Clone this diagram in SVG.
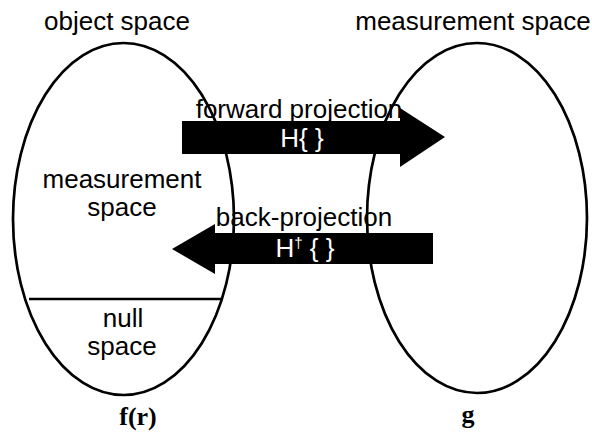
<svg xmlns="http://www.w3.org/2000/svg" width="592" height="435" viewBox="0 0 592 435">
<style>
.sp{fill:none;stroke:#000;stroke-width:2.7}
.t{font-family:"Liberation Sans",Arial,sans-serif;font-size:26px;fill:#000}
.w{font-family:"Liberation Sans",Arial,sans-serif;font-size:26px;fill:#fff}
.m{font-family:"Liberation Serif","Times New Roman",serif;font-size:26px;font-weight:bold;fill:#000}
.ar{fill:#000}
</style>
<rect width="592" height="435" fill="#fff"/>
<g id="object-space">
<ellipse class="sp" cx="123.5" cy="219" rx="110.5" ry="176"/>
<line x1="29" y1="299" x2="222" y2="299" stroke="#000" stroke-width="2.7"/>
<text class="t" x="117" y="30" text-anchor="middle">object space</text>
<text class="t" x="122" y="188" text-anchor="middle">measurement</text>
<text class="t" x="122" y="216" text-anchor="middle">space</text>
<text class="t" x="123" y="327" text-anchor="middle">null</text>
<text class="t" x="122" y="355" text-anchor="middle">space</text>
<text class="m" x="138" y="425" text-anchor="middle">f(r)</text>
</g>
<g id="measurement-space">
<ellipse class="sp" cx="477" cy="218" rx="110" ry="175"/>
<text class="t" x="473" y="30" text-anchor="middle">measurement space</text>
<text class="m" x="468" y="423" text-anchor="middle">g</text>
</g>
<g id="connectors">
<g id="forward">
<polygon class="ar" points="182,121 400,121 400,108 445,137 400,167 400,154 182,154"/>
<text class="t" x="299" y="118" text-anchor="middle">forward projection</text>
<text class="w" x="302" y="147" text-anchor="middle">H{ }</text>
</g>
<g id="back">
<polygon class="ar" points="433,233 215,233 215,224 172,249 215,274 215,264 433,264"/>
<text class="t" x="304" y="226" text-anchor="middle">back-projection</text>
<text class="w" x="305" y="257" text-anchor="middle">H<tspan font-size="15" dy="-9">†</tspan><tspan dy="9"> { }</tspan></text>
</g>
</g>
</svg>
